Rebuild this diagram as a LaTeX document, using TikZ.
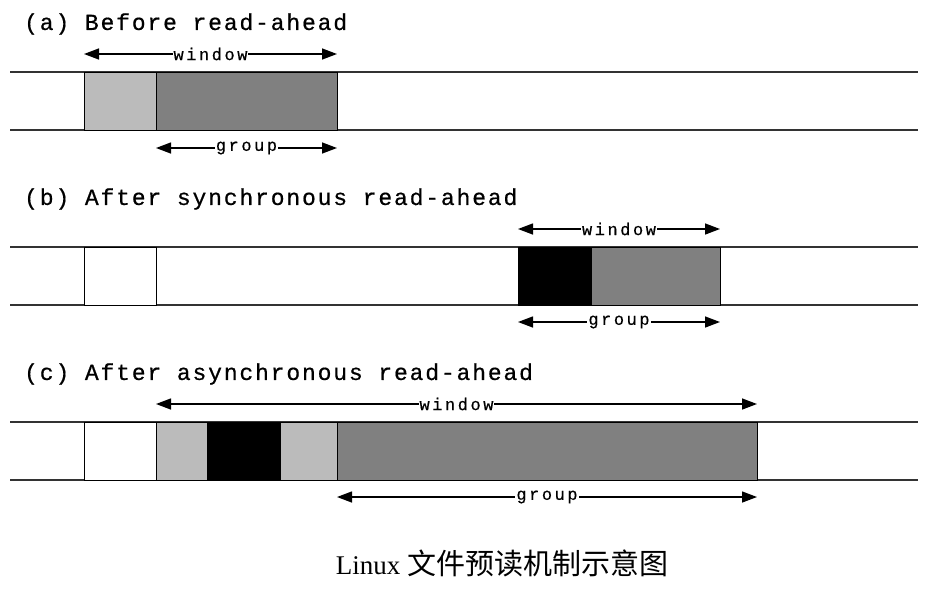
\documentclass[tikz,border=0pt]{standalone}
\usepackage{fontspec}
\setmainfont{Liberation Serif}
\newfontfamily\titlefont[LetterSpace=8,FakeBold=0.6]{Liberation Mono}
\newfontfamily\lblfont[LetterSpace=15,FakeBold=0.5]{Liberation Mono}
\newfontfamily\cjk{Noto Sans CJK SC}
\usetikzlibrary{arrows.meta}
\definecolor{lg}{HTML}{BBBBBB}
\definecolor{dg}{HTML}{808080}
\definecolor{rail}{HTML}{333333}
\begin{document}
\begin{tikzpicture}[x=1pt,y=-1pt,
  railline/.style={draw=rail,line width=1.6pt},
  blk/.style={draw=black,line width=1.2pt,anchor=north west,inner sep=0pt,minimum height=58pt},
  dim/.style={line width=1.4pt,{Triangle[length=15pt,width=11pt]}-{Triangle[length=15pt,width=11pt]}},
  lbl/.style={fill=white,inner sep=1pt,font=\lblfont\fontsize{17}{17}\selectfont},
  ttl/.style={anchor=west,inner sep=0pt,font=\titlefont\fontsize{23}{23}\selectfont}]
\useasboundingbox (0,0) rectangle (952,608);
\fill[white] (0,0) rectangle (952,608);

% ---------- (a)
\node[ttl] (ta) at (24,24) {(a) Before read-ahead};
\coordinate (a0t) at (10,72); \coordinate (a1t) at (918,72);
\coordinate (a0b) at (10,130); \coordinate (a1b) at (918,130);
\draw[railline] (a0t) -- (a1t);
\draw[railline] (a0b) -- (a1b);
\node[blk,fill=lg,minimum width=72pt] (aA) at (84,72) {};
\node[blk,fill=dg,minimum width=181pt] (aB) at (156,72) {};
\coordinate (awl) at (84,54); \coordinate (awr) at (337,54);
\draw[dim] (awl) -- (awr) node[lbl,midway] (awt) {window};
\coordinate (agl) at (156,148); \coordinate (agr) at (337,148);
\draw[dim] (agl) -- (agr) node[lbl,midway] (agt) {group};

% ---------- (b)
\node[ttl] (tb) at (24,199) {(b) After synchronous read-ahead};
\coordinate (b0t) at (10,247); \coordinate (b1t) at (918,247);
\coordinate (b0b) at (10,305); \coordinate (b1b) at (918,305);
\draw[railline] (b0t) -- (b1t);
\draw[railline] (b0b) -- (b1b);
\node[blk,fill=white,minimum width=72pt] (bA) at (84,247) {};
\node[blk,fill=black,minimum width=73pt] (bB) at (518,247) {};
\node[blk,fill=dg,minimum width=129pt] (bC) at (591,247) {};
\coordinate (bwl) at (518,229); \coordinate (bwr) at (720,229);
\draw[dim] (bwl) -- (bwr) node[lbl,midway] (bwt) {window};
\coordinate (bgl) at (518,322); \coordinate (bgr) at (720,322);
\draw[dim] (bgl) -- (bgr) node[lbl,midway] (bgt) {group};

% ---------- (c)
\node[ttl] (tc) at (24,374) {(c) After asynchronous read-ahead};
\coordinate (c0t) at (10,422); \coordinate (c1t) at (918,422);
\coordinate (c0b) at (10,480); \coordinate (c1b) at (918,480);
\draw[railline] (c0t) -- (c1t);
\draw[railline] (c0b) -- (c1b);
\node[blk,fill=white,minimum width=72pt] (cA) at (84,422) {};
\node[blk,fill=lg,minimum width=51pt] (cB) at (156,422) {};
\node[blk,fill=black,minimum width=73pt] (cC) at (207,422) {};
\node[blk,fill=lg,minimum width=57pt] (cD) at (280,422) {};
\node[blk,fill=dg,minimum width=420pt] (cE) at (337,422) {};
\coordinate (cwl) at (156,404); \coordinate (cwr) at (757,404);
\draw[dim] (cwl) -- (cwr) node[lbl,midway] (cwt) {window};
\coordinate (cgl) at (337,497); \coordinate (cgr) at (757,497);
\draw[dim] (cgl) -- (cgr) node[lbl,midway] (cgt) {group};

% ---------- caption
\node[inner sep=0pt] (cap) at (502,563) {\fontsize{27}{27}\selectfont Linux {\cjk\fontsize{29}{29}\selectfont 文件预读机制示意图}};
\end{tikzpicture}
\end{document}
